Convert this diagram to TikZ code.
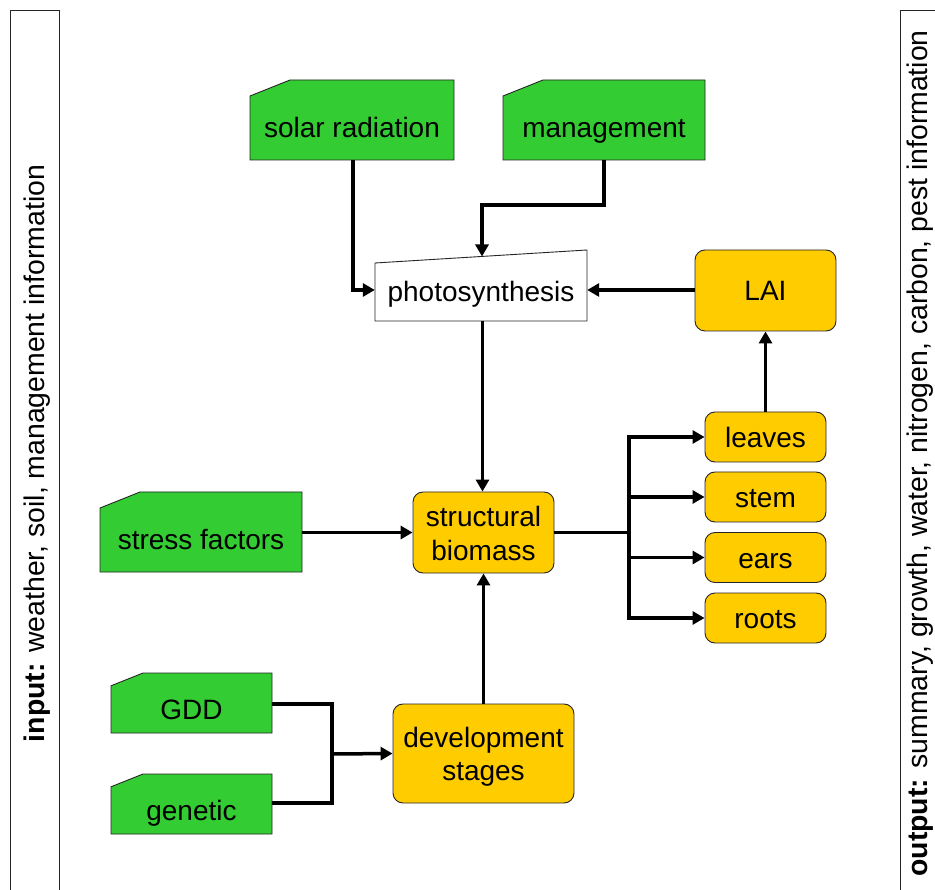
\documentclass[tikz,border=0pt]{standalone}
\usepackage{fontspec}
\setmainfont{Liberation Sans}
\usetikzlibrary{arrows.meta}
\definecolor{cardgreen}{HTML}{33CC33}
\definecolor{boxyellow}{HTML}{FFCC00}
\tikzset{
  lbl/.style={font=\fontsize{28}{31}\selectfont, inner sep=0pt, anchor=base},
  frame/.style={draw=black!85, line width=0.9pt},
  rbox/.style={draw=black!85, line width=0.9pt, fill=boxyellow, rounded corners=10pt, inner sep=0pt},
  conn/.style={line width=3.5pt, -{Triangle[length=12pt,width=13pt]}},
  plain/.style={line width=3.5pt},
}
\newcommand{\cardshape}[6]{% name, x1, y1, x2, y2, cut
  \fill[cardgreen] (#2+#6,#3) -- (#4,#3) -- (#4,#5) -- (#2,#5) -- (#2,#3+0.4*#6) -- cycle;
  \draw[frame] (#2+#6,#3) -- (#4,#3) -- (#4,#5) -- (#2,#5) -- (#2,#3+0.4*#6) -- cycle;
  \node[inner sep=0pt, minimum width=#4-#2, minimum height=#5-#3] (#1) at ({(#2+#4)/2},{(#3+#5)/2}) {};
}
\begin{document}
\begin{tikzpicture}[x=1pt,y=-1pt]
\useasboundingbox (0,0) rectangle (935,890);
\fill[white] (0,0) rectangle (935,890);
% side bars
\draw[frame] (10,900) -- (10,10) -- (59,10) -- (59,900);
\node[font=\fontsize{28.4}{31}\selectfont, inner sep=0pt, rotate=90] (inlabel) at (37,453.5) {\textbf{input:} weather, soil, management information};
\draw[frame] (900,900) -- (900,10) -- (945,10);
\node[font=\fontsize{28.4}{31}\selectfont, inner sep=0pt, rotate=90, anchor=east] (outlabel) at (920.5,30) {\textbf{output:} summary, growth, water, nitrogen, carbon, pest information};
% green cards
\cardshape{solar}{250}{80}{454}{160}{40}
\node[lbl] (solart) at (352,138) {solar radiation};
\cardshape{mgmt}{503}{80}{705}{160}{40}
\node[lbl] (mgmtt) at (604,138) {management};
\cardshape{stress}{100}{492}{302}{572}{40}
\node[lbl] (stresst) at (201,550) {stress factors};
\cardshape{gdd}{111}{673}{272}{733}{32}
\node[lbl] (gddt) at (191.5,719.5) {GDD};
\cardshape{genetic}{111}{774}{272}{834}{32}
\node[lbl] (genetict) at (191.5,820) {genetic};
% photosynthesis (manual input)
\draw[frame, fill=white] (375,263) -- (587,250) -- (587,321) -- (375,321) -- cycle;
\node[inner sep=0pt, minimum width=212pt, minimum height=71pt] (photo) at (481,285.5) {};
\node[lbl] (photot) at (481,302) {photosynthesis};
% yellow boxes
\node[rbox, minimum width=141pt, minimum height=81pt] (lai) at (765.5,290.5) {};
\node[lbl] (lait) at (765.5,301) {LAI};
\node[rbox, minimum width=121pt, minimum height=50pt] (leaves) at (765.5,437) {};
\node[lbl] (leavest) at (765.5,447.5) {leaves};
\node[rbox, minimum width=121pt, minimum height=50pt] (stem) at (765.5,497) {};
\node[lbl] (stemt) at (765.5,507.5) {stem};
\node[rbox, minimum width=121pt, minimum height=50pt] (ears) at (765.5,557.5) {};
\node[lbl] (earst) at (765.5,568) {ears};
\node[rbox, minimum width=121pt, minimum height=50pt] (roots) at (765.5,618) {};
\node[lbl] (rootst) at (765.5,628.5) {roots};
\node[rbox, minimum width=141pt, minimum height=81pt] (biomass) at (483.5,532.5) {};
\node[lbl] (biomasst1) at (483.5,526) {structural};
\node[lbl] (biomasst2) at (483.5,560) {biomass};
\node[rbox, minimum width=181pt, minimum height=99pt] (dev) at (483.5,753.5) {};
\node[lbl] (devt1) at (483.5,747) {development};
\node[lbl] (devt2) at (483.5,780) {stages};
% connectors
\coordinate (m1) at (353,290);
\coordinate (m2) at (604,205);
\coordinate (m3) at (482,205);
\coordinate (ptop) at (482,256.5);
\coordinate (pbot) at (482.5,321);
\coordinate (br) at (629,532.5);
\coordinate (jn) at (332,754);
\draw[conn] (solar.south -| m1) -- (m1) -- (m1 -| photo.west);
\draw[conn] (mgmt.south) -- (m2) -- (m3) -- (ptop);
\draw[conn] (lai.west |- m1) -- (m1 -| photo.east);
\draw[conn] (leaves.north) -- (lai.south);
\draw[conn] (pbot) -- (pbot |- biomass.north);
\draw[conn] (stress.east |- biomass.west) -- (biomass.west);
\draw[conn] (dev.north) -- (biomass.south);
\draw[plain] (biomass.east) -- (br);
\draw[conn] (br) |- (leaves.west);
\draw[conn] (br) |- (stem.west);
\draw[conn] (br) |- (ears.west);
\draw[conn] (br) |- (roots.west);
\draw[plain] (gdd.east |- 0,704) -| (jn);
\draw[plain] (genetic.east |- 0,803) -| (jn);
\draw[conn] (jn) -- (dev.west);
\end{tikzpicture}
\end{document}
